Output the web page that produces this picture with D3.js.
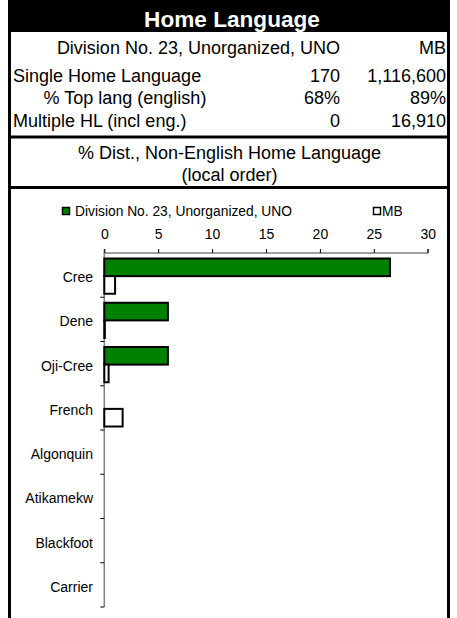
<!DOCTYPE html>
<html>
<head>
<meta charset="utf-8">
<script src="https://cdn.jsdelivr.net/npm/d3@7"></script>
<style>
  html, body { margin: 0; padding: 0; background: #fff; }
  svg { display: block; font-family: "Liberation Sans", Arial, sans-serif; }
</style>
</head>
<body>
<svg id="chart" width="457" height="618"></svg>
<script>
// ---- data ----
const title = "Home Language";
const headerCols = ["Division No. 23, Unorganized, UNO", "MB"];
const rowLabels = ["Single Home Language", "% Top lang (english)", "Multiple HL (incl eng.)"];
const rowLocal = ["170", "68%", "0"];
const rowMB = ["1,116,600", "89%", "16,910"];
const subtitleLines = ["% Dist., Non-English Home Language", "(local order)"];
const categories = ["Cree", "Dene", "Oji-Cree", "French", "Algonquin", "Atikamekw", "Blackfoot", "Carrier"];
const seriesNames = ["Division No. 23, Unorganized, UNO", "MB"];
const localValues = [26.5, 5.9, 5.9, 0, 0, 0, 0, 0];
const mbValues = [1.0, 0.05, 0.4, 1.7, 0, 0, 0, 0];
const xTicks = [0, 5, 10, 15, 20, 25, 30];
const seriesColors = ["#008000", "#ffffff"];

const svg = d3.select("#chart");
const L = 8, R = 450;

// title bar
svg.append("rect").attr("x", L).attr("y", 0).attr("width", R - L).attr("height", 32).attr("fill", "#000");
svg.append("text").attr("x", (L + R) / 2 + 3).attr("y", 26.5).attr("text-anchor", "middle")
  .attr("fill", "#fff").attr("font-weight", "bold").attr("font-size", 22.6).text(title);

// frame lines
const frame = svg.append("g").attr("stroke", "#000").attr("stroke-width", 3);
frame.append("line").attr("x1", L + 1.5).attr("x2", L + 1.5).attr("y1", 0).attr("y2", 618);
frame.append("line").attr("x1", R - 1.5).attr("x2", R - 1.5).attr("y1", 0).attr("y2", 618);
frame.append("line").attr("x1", L).attr("x2", R).attr("y1", 137).attr("y2", 137);
frame.append("line").attr("x1", L).attr("x2", R).attr("y1", 187.5).attr("y2", 187.5);

// header table
const fs = 18;
const col1 = 340, col2 = 446;
svg.append("text").attr("x", col1).attr("y", 54).attr("text-anchor", "end").attr("font-size", fs).text(headerCols[0]);
svg.append("text").attr("x", col2).attr("y", 54).attr("text-anchor", "end").attr("font-size", fs).text(headerCols[1]);
const rowY = [81.5, 104, 126.5];
rowLabels.forEach((lab, i) => {
  const centered = i === 1;
  svg.append("text").attr("x", centered ? 125 : 13).attr("y", rowY[i])
    .attr("text-anchor", centered ? "middle" : "start").attr("font-size", fs).text(lab);
  svg.append("text").attr("x", col1).attr("y", rowY[i]).attr("text-anchor", "end").attr("font-size", fs).text(rowLocal[i]);
  svg.append("text").attr("x", col2).attr("y", rowY[i]).attr("text-anchor", "end").attr("font-size", fs).text(rowMB[i]);
});
subtitleLines.forEach((t, i) => {
  svg.append("text").attr("x", 229.5).attr("y", [158.5, 181][i]).attr("text-anchor", "middle")
    .attr("font-size", fs).text(t);
});

// chart
const cfs = 14;
const x = d3.scaleLinear().domain([0, 30]).range([104.3, 427.7]);
const y = d3.scaleBand().domain(categories).range([253, 607]).paddingInner(0).paddingOuter(0);
const inner = d3.scaleBand().domain([0, 1]).range([5.5, y.bandwidth() - 3.5]).padding(0);

// legend
const legendItems = [
  { name: seriesNames[0], color: seriesColors[0], sx: 62.5, tx: 75 },
  { name: seriesNames[1], color: seriesColors[1], sx: 373.5, tx: 382 }
];
legendItems.forEach(d => {
  svg.append("rect").attr("x", d.sx).attr("y", 207.5).attr("width", 7).attr("height", 7)
    .attr("fill", d.color).attr("stroke", "#000").attr("stroke-width", 1.5);
  svg.append("text").attr("x", d.tx).attr("y", 215.5).attr("font-size", 13.8).text(d.name);
});

// x axis at top
const xAxis = svg.append("g").attr("transform", "translate(0,253)")
  .call(d3.axisTop(x).tickValues(xTicks).tickSize(4).tickPadding(10.5).tickFormat(d3.format("d")));
xAxis.select(".domain").attr("stroke", "#808080").attr("stroke-width", 1.5)
  .attr("d", `M${x(0)},-4V0H${x(30)}V-4`);
xAxis.selectAll(".tick line").attr("stroke", "#000");
xAxis.selectAll(".tick text").attr("font-size", cfs).attr("font-family", "Liberation Sans, Arial, sans-serif").attr("fill", "#000");

// y axis
const yAxisG = svg.append("g").attr("transform", `translate(${x(0)},0)`);
yAxisG.append("line").attr("x1", 0).attr("x2", 0).attr("y1", 253).attr("y2", 607)
  .attr("stroke", "#808080").attr("stroke-width", 1.5);
const bounds = categories.map(c => y(c) + y.bandwidth());
yAxisG.selectAll("line.tk").data(bounds).enter().append("line").attr("class", "tk")
  .attr("x1", -4).attr("x2", 0).attr("y1", d => d).attr("y2", d => d)
  .attr("stroke", "#000").attr("stroke-width", 1);
svg.selectAll("text.cat").data(categories).enter().append("text").attr("class", "cat")
  .attr("x", 93).attr("y", d => y(d) + y.bandwidth() / 2 + 7)
  .attr("text-anchor", "end").attr("font-size", cfs).text(d => d);

// bars
const series = [localValues, mbValues];
series.forEach((vals, si) => {
  svg.append("g").selectAll("rect").data(categories.map((c, i) => ({ c, v: vals[i] })).filter(d => d.v > 0))
    .enter().append("rect")
    .attr("x", x(0))
    .attr("y", d => y(d.c) + inner(si))
    .attr("width", d => x(d.v) - x(0))
    .attr("height", inner.bandwidth())
    .attr("fill", seriesColors[si])
    .attr("stroke", "#000").attr("stroke-width", 2);
});
</script>
</body>
</html>
